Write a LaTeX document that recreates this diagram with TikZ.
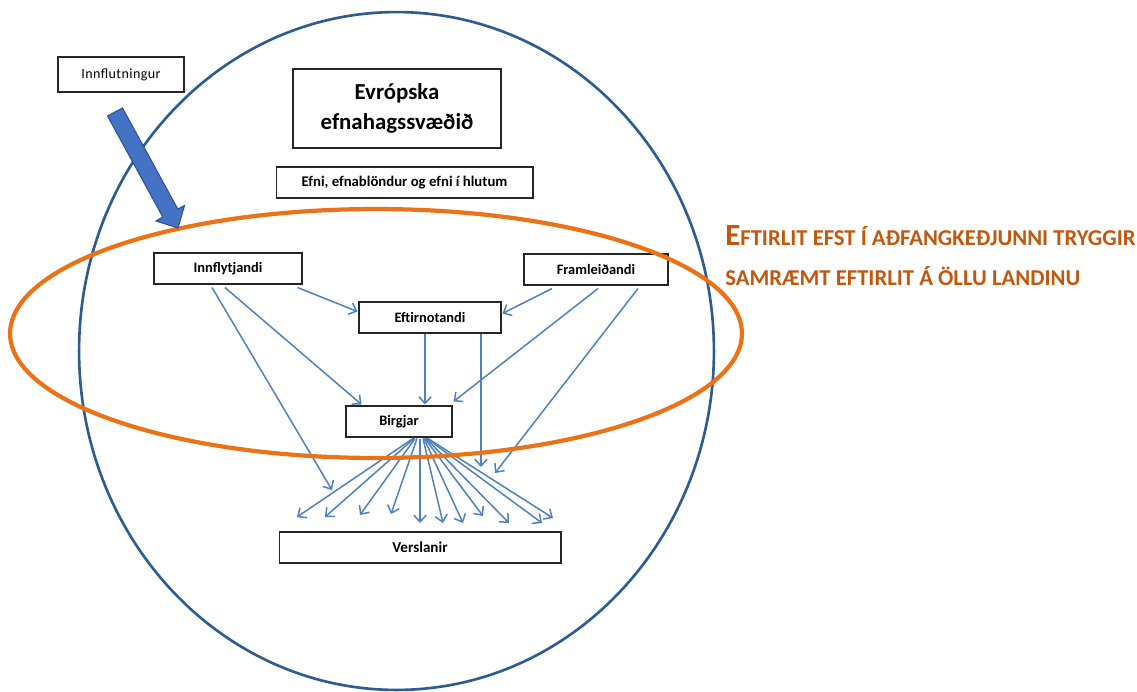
\documentclass[tikz,border=0pt]{standalone}
\usepackage{fontspec}
\setmainfont{Carlito}
\usetikzlibrary{calc,arrows.meta}
\definecolor{circleblue}{HTML}{2E5C8E}
\definecolor{ringorange}{HTML}{E97316}
\definecolor{linkblue}{HTML}{4F81BD}
\definecolor{titleorange}{HTML}{C0580F}
\definecolor{arrowfill}{HTML}{4472C4}
\definecolor{arrowedge}{HTML}{2F528F}
\begin{document}
\begin{tikzpicture}[x=0.02cm,y=-0.02cm,
  box/.style={draw=black!85, line width=0.6pt, fill=white, inner sep=0pt,
    minimum height=6.2mm, font=\fontsize{8.2}{9}\selectfont\bfseries},
  link/.style={draw=linkblue, line width=0.85pt,
    -{Straight Barb[length=3.8pt,width=7pt,line width=0.85pt]}},
  titletext/.style={text=titleorange, inner sep=0pt, anchor=base west,
    font=\fontsize{12.9}{14}\selectfont\bfseries}]
\useasboundingbox (0,0) rectangle (1137,691);
\fill[white] (0,0) rectangle (1137,691);

% big circle (EEA)
\draw[circleblue, line width=1.5pt] (396.5,351) ellipse [x radius=6.35cm, y radius=6.78cm];

% boxes
\node[box, minimum width=25.2mm, minimum height=7mm,
  font=\fontsize{8}{9}\selectfont\addfontfeature{LetterSpace=3}] (imp) at (121,74.5) {Innflutningur};
\node[box, minimum width=41.6mm, minimum height=15.8mm, align=center,
  font=\fontsize{13}{17}\selectfont\bfseries] (eea) at (397,108.5) {Evrópska\\efnahagssvæðið};
\node[box, minimum width=51.4mm, font=\fontsize{8.4}{9}\selectfont\bfseries] (efni) at (404.5,182.5) {Efni, efnablöndur og efni í hlutum};
\node[box, minimum width=29.6mm] (inn) at (228,268.5) {Innflytjandi};
\node[box, minimum width=28.8mm] (fra) at (596,269.5) {Framleiðandi};
\node[box, minimum width=28.4mm] (eft) at (430,317.5) {Eftirnotandi};
\node[box, minimum width=21.2mm] (bir) at (399,421.5) {Birgjar};
\node[box, minimum width=56.4mm, font=\fontsize{8.6}{9}\selectfont\bfseries] (ver) at (420,547.5) {Verslanir};

% free ends of connectors
\coordinate (innEnd) at (332,490);
\coordinate (fraEnd) at (495,473);
\coordinate (eftEnd) at (481,467);
\foreach \n/\x/\y in {1/297/517, 2/325/517, 3/360/515, 4/391/514, 5/420/523, 6/443/523,
                      7/463/523, 8/483/516, 9/509/523, 10/542/523, 11/553/518}
  \coordinate (f\n) at (\x,\y);

% connectors
\draw[link] ($(inn.south east)+(-5,3)$) -- ($(eft.west)+(-1,-6)$);
\draw[link] ($(inn.south)+(-3,3)$) -- ($(bir.north west)+(16,-1)$);
\draw[link] ($(inn.south)+(-16,3)$) -- (innEnd);
\draw[link] ($(fra.south)+(-44,3)$) -- ($(eft.east)+(1,-4)$);
\draw[link] ($(fra.south)+(2,3)$) -- ($(bir.north east)+(1,-4)$);
\draw[link] ($(fra.south)+(42,3)$) -- (fraEnd);
\draw[link] ($(eft.south)+(-5,0)$) -- ($(bir.north)+(26,-1)$);
\draw[link] ($(eft.south)+(51,0)$) -- (eftEnd);
\foreach \n/\dx in {1/14, 2/15, 3/16, 4/18, 6/24, 7/25, 8/26, 9/27, 10/28, 11/29}
  \draw[link] ($(bir.south)+(\dx,1)$) -- (f\n);
\draw[link] ($(bir.south)+(21,1)$) -- (f5);

% orange ring
\draw[ringorange, line width=2.4pt] (376,333.5) ellipse [x radius=7.32cm, y radius=2.49cm];

% big import arrow
\filldraw[fill=arrowfill, draw=arrowedge, line width=0.6pt, line join=miter]
  (107.5,116) -- (162.8,217) -- (156,221) -- (178,228)
  -- (184.5,205.5) -- (177.8,209) -- (122.5,108) -- cycle;

% title text
\node[titletext] (t1) at (725,245) {{\fontsize{17.5}{18}\selectfont E}FTIRLIT EFST Í AÐFANGKEÐJUNNI TRYGGIR};
\node[titletext] (t2) at (725,285) {SAMRÆMT EFTIRLIT Á ÖLLU LANDINU};
\end{tikzpicture}
\end{document}
